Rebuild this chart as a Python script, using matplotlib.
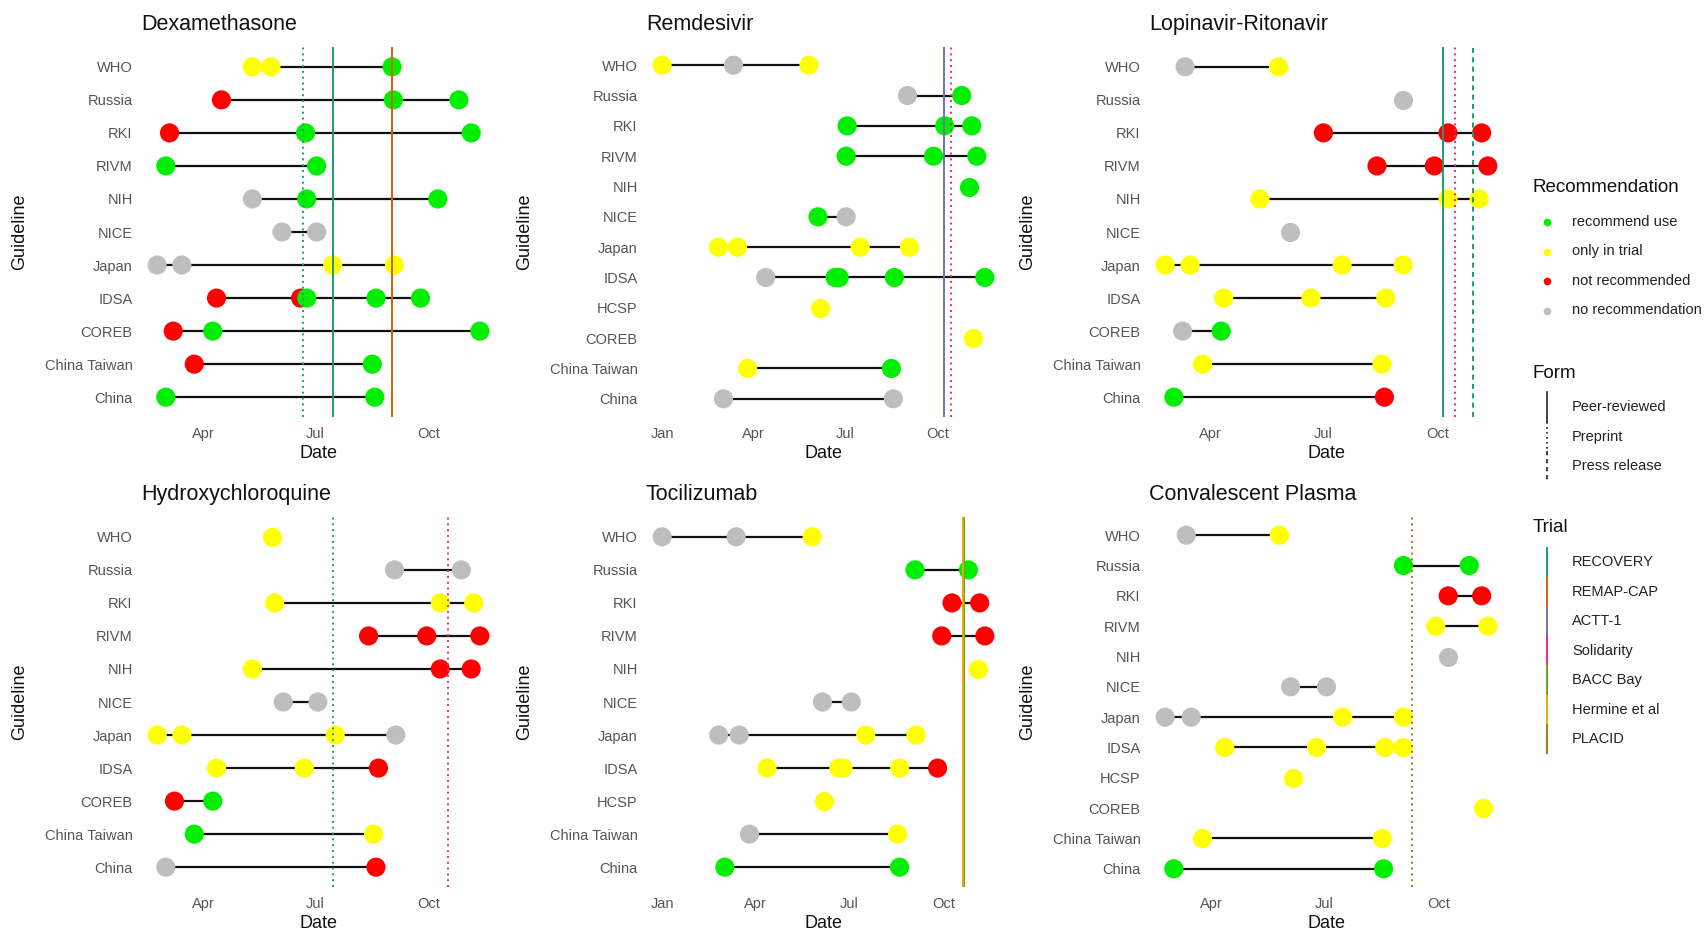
import numpy as np
import matplotlib
matplotlib.use('Agg')
import matplotlib.pyplot as plt
import matplotlib.dates as mdates

plt.rcParams['font.family'] = ['Liberation Sans', 'DejaVu Sans']

# recommendation codes: R = recommend use, T = only in trial, N = not recommended, U = no recommendation
rec_codes = ['R', 'T', 'N', 'U']
rec_labels = ['recommend use', 'only in trial', 'not recommended', 'no recommendation']
rec_colors = ['#00EE00', '#FFFF00', '#FF0000', '#BEBEBE']

form_names = ['Peer-reviewed', 'Preprint', 'Press release']
trial_names = ['RECOVERY', 'REMAP-CAP', 'ACTT-1', 'Solidarity', 'BACC Bay', 'Hermine et al', 'PLACID']
trial_colors = ['#1B9E77', '#D95F02', '#7570B3', '#E7298A', '#66A61E', '#E6AB02', '#A6761D']

dexa_recs = {
    'WHO': [('2020-05-11', 'T'), ('2020-05-26', 'T'), ('2020-09-01', 'R')],
    'Russia': [('2020-04-16', 'N'), ('2020-09-02', 'R'), ('2020-10-25', 'R')],
    'RKI': [('2020-03-05', 'N'), ('2020-06-23', 'R'), ('2020-11-04', 'R')],
    'RIVM': [('2020-03-02', 'R'), ('2020-07-02', 'R')],
    'NIH': [('2020-05-11', 'U'), ('2020-06-24', 'R'), ('2020-10-08', 'R')],
    'NICE': [('2020-06-04', 'U'), ('2020-07-02', 'U')],
    'Japan': [('2020-02-24', 'U'), ('2020-03-15', 'U'), ('2020-07-15', 'T'), ('2020-09-03', 'T')],
    'IDSA': [('2020-04-12', 'N'), ('2020-06-19', 'N'), ('2020-06-24', 'R'), ('2020-08-19', 'R'), ('2020-09-24', 'R')],
    'COREB': [('2020-03-08', 'N'), ('2020-04-09', 'R'), ('2020-11-11', 'R')],
    'China Taiwan': [('2020-03-25', 'N'), ('2020-08-16', 'R')],
    'China': [('2020-03-02', 'R'), ('2020-08-18', 'R')],
}
dexa_trials = [('RECOVERY', 'Preprint', '2020-06-21'),
               ('RECOVERY', 'Peer-reviewed', '2020-07-15'),
               ('REMAP-CAP', 'Peer-reviewed', '2020-09-01')]

remd_recs = {
    'WHO': [('2020-01-01', 'T'), ('2020-03-12', 'U'), ('2020-05-26', 'T')],
    'Russia': [('2020-09-01', 'U'), ('2020-10-25', 'R')],
    'RKI': [('2020-07-03', 'R'), ('2020-10-08', 'R'), ('2020-11-04', 'R')],
    'RIVM': [('2020-07-02', 'R'), ('2020-09-27', 'R'), ('2020-11-09', 'R')],
    'NIH': [('2020-11-01', 'R')],
    'NICE': [('2020-06-04', 'R'), ('2020-07-02', 'U')],
    'Japan': [('2020-02-26', 'T'), ('2020-03-16', 'T'), ('2020-07-16', 'T'), ('2020-09-03', 'T')],
    'IDSA': [('2020-04-13', 'U'), ('2020-06-21', 'R'), ('2020-06-25', 'R'), ('2020-08-19', 'R'), ('2020-11-17', 'R')],
    'HCSP': [('2020-06-06', 'T')],
    'COREB': [('2020-11-05', 'T')],
    'China Taiwan': [('2020-03-26', 'T'), ('2020-08-16', 'R')],
    'China': [('2020-03-02', 'U'), ('2020-08-18', 'U')],
}
remd_trials = [('ACTT-1', 'Peer-reviewed', '2020-10-07'),
               ('Solidarity', 'Preprint', '2020-10-14')]

lopi_recs = {
    'WHO': [('2020-03-12', 'U'), ('2020-05-26', 'T')],
    'Russia': [('2020-09-03', 'U')],
    'RKI': [('2020-07-01', 'N'), ('2020-10-09', 'N'), ('2020-11-05', 'N')],
    'RIVM': [('2020-08-13', 'N'), ('2020-09-28', 'N'), ('2020-11-10', 'N')],
    'NIH': [('2020-05-11', 'T'), ('2020-10-09', 'T'), ('2020-11-03', 'T')],
    'NICE': [('2020-06-04', 'U')],
    'Japan': [('2020-02-25', 'T'), ('2020-03-16', 'T'), ('2020-07-16', 'T'), ('2020-09-03', 'T')],
    'IDSA': [('2020-04-12', 'T'), ('2020-06-21', 'T'), ('2020-08-20', 'T')],
    'COREB': [('2020-03-10', 'U'), ('2020-04-10', 'R')],
    'China Taiwan': [('2020-03-26', 'T'), ('2020-08-17', 'T')],
    'China': [('2020-03-03', 'R'), ('2020-08-19', 'N')],
}
lopi_trials = [('RECOVERY', 'Peer-reviewed', '2020-10-05'),
               ('Solidarity', 'Preprint', '2020-10-15'),
               ('RECOVERY', 'Press release', '2020-10-29')]

hcq_recs = {
    'WHO': [('2020-05-27', 'T')],
    'Russia': [('2020-09-03', 'U'), ('2020-10-27', 'U')],
    'RKI': [('2020-05-29', 'T'), ('2020-10-10', 'T'), ('2020-11-06', 'T')],
    'RIVM': [('2020-08-13', 'N'), ('2020-09-29', 'N'), ('2020-11-11', 'N')],
    'NIH': [('2020-05-11', 'T'), ('2020-10-10', 'N'), ('2020-11-04', 'N')],
    'NICE': [('2020-06-05', 'U'), ('2020-07-03', 'U')],
    'Japan': [('2020-02-24', 'T'), ('2020-03-15', 'T'), ('2020-07-17', 'T'), ('2020-09-04', 'U')],
    'IDSA': [('2020-04-12', 'T'), ('2020-06-22', 'T'), ('2020-08-21', 'N')],
    'COREB': [('2020-03-09', 'N'), ('2020-04-09', 'R')],
    'China Taiwan': [('2020-03-25', 'R'), ('2020-08-17', 'T')],
    'China': [('2020-03-02', 'U'), ('2020-08-19', 'N')],
}
hcq_trials = [('RECOVERY', 'Preprint', '2020-07-15'),
              ('Solidarity', 'Preprint', '2020-10-16')]

toci_recs = {
    'WHO': [('2020-01-01', 'U'), ('2020-03-13', 'U'), ('2020-05-26', 'T')],
    'Russia': [('2020-09-03', 'R'), ('2020-10-25', 'R')],
    'RKI': [('2020-10-09', 'N'), ('2020-11-05', 'N')],
    'RIVM': [('2020-09-29', 'N'), ('2020-11-10', 'N')],
    'NIH': [('2020-11-03', 'T')],
    'NICE': [('2020-06-05', 'U'), ('2020-07-03', 'U')],
    'Japan': [('2020-02-25', 'U'), ('2020-03-16', 'U'), ('2020-07-17', 'T'), ('2020-09-04', 'T')],
    'IDSA': [('2020-04-12', 'T'), ('2020-06-21', 'T'), ('2020-06-25', 'T'), ('2020-08-19', 'T'), ('2020-09-25', 'N')],
    'HCSP': [('2020-06-06', 'T')],
    'China Taiwan': [('2020-03-26', 'U'), ('2020-08-17', 'T')],
    'China': [('2020-03-02', 'R'), ('2020-08-19', 'R')],
}
toci_trials = [('BACC Bay', 'Peer-reviewed', '2020-10-21'),
               ('Hermine et al', 'Peer-reviewed', '2020-10-20')]

plasma_recs = {
    'WHO': [('2020-03-12', 'U'), ('2020-05-26', 'T')],
    'Russia': [('2020-09-03', 'R'), ('2020-10-26', 'R')],
    'RKI': [('2020-10-09', 'N'), ('2020-11-05', 'N')],
    'RIVM': [('2020-09-29', 'T'), ('2020-11-10', 'T')],
    'NIH': [('2020-10-09', 'U')],
    'NICE': [('2020-06-04', 'U'), ('2020-07-03', 'U')],
    'Japan': [('2020-02-24', 'U'), ('2020-03-16', 'U'), ('2020-07-16', 'T'), ('2020-09-03', 'T')],
    'IDSA': [('2020-04-12', 'T'), ('2020-06-25', 'T'), ('2020-08-19', 'T'), ('2020-09-03', 'T')],
    'HCSP': [('2020-06-06', 'T')],
    'COREB': [('2020-11-06', 'T')],
    'China Taiwan': [('2020-03-25', 'T'), ('2020-08-17', 'T')],
    'China': [('2020-03-02', 'R'), ('2020-08-18', 'R')],
}
plasma_trials = [('PLACID', 'Preprint', '2020-09-10')]

panels = [
    ('Dexamethasone', dexa_recs, dexa_trials),
    ('Remdesivir', remd_recs, remd_trials),
    ('Lopinavir-Ritonavir', lopi_recs, lopi_trials),
    ('Hydroxychloroquine', hcq_recs, hcq_trials),
    ('Tocilizumab', toci_recs, toci_trials),
    ('Convalescent Plasma', plasma_recs, plasma_trials),
]

form_styles = {'Peer-reviewed': '-', 'Preprint': (0, (1.0, 2.0)), 'Press release': (0, (2.6, 2.2))}
col_of = dict(zip(rec_codes, rec_colors))
trial_col = dict(zip(trial_names, trial_colors))

W, H = 1704, 932
fig = plt.figure(figsize=(W / 100, H / 100), dpi=100)

col_left = [141, 646, 1149]
ax_w = 355
row_top = [47, 517]
ax_h = 370

tick_col = '#555555'
for k, (title, recs, trials) in enumerate(panels):
    r, c = divmod(k, 3)
    ax = fig.add_axes([col_left[c] / W, 1 - (row_top[r] + ax_h) / H, ax_w / W, ax_h / H])
    names = list(recs.keys())
    all_x = []
    for i, g in enumerate(names):
        xs = [mdates.datestr2num(d) for d, _ in recs[g]]
        cs = [col_of[code] for _, code in recs[g]]
        all_x += xs
        if len(xs) > 1:
            ax.plot(xs, [i] * len(xs), color='#111111', lw=1.6, zorder=2, solid_capstyle='butt')
        ax.scatter(xs, [i] * len(xs), s=190, c=cs, linewidths=0, zorder=3)
    for name, form, d in trials:
        xv = mdates.datestr2num(d)
        all_x.append(xv)
        ax.axvline(xv, color=trial_col[name], lw=1.4, ls=form_styles[form], zorder=4)
    lo, hi = min(all_x), max(all_x)
    pad = (hi - lo) * 0.05
    ax.set_xlim(lo - pad, hi + pad)
    ax.set_ylim(len(names) - 1 + 0.6, -0.6)
    ax.set_yticks(range(len(names)))
    ax.set_yticklabels(names)
    months = [mdates.datestr2num(m) for m in ['2020-01-01', '2020-04-01', '2020-07-01', '2020-10-01']]
    ax.set_xticks([m for m in months if lo - pad <= m <= hi + pad])
    ax.xaxis.set_major_formatter(mdates.DateFormatter('%b'))
    ax.tick_params(length=0, labelsize=10.5, colors=tick_col)
    ax.tick_params(axis='x', pad=7)
    ax.tick_params(axis='y', pad=6)
    for s in ax.spines.values():
        s.set_visible(False)
    ax.set_facecolor('none')
    ax.set_title(title, loc='left', fontsize=15.5, pad=12, color='#111111')
    ax.set_xlabel('Date', fontsize=13, color='#111111')
    ax.xaxis.set_label_coords(0.5, -37 / ax_h)
    ax.xaxis.label.set_va('center')
    ax.set_ylabel('Guideline', fontsize=13, color='#111111')
    ax.yaxis.set_label_coords(-121 / ax_w, 0.5)
    ax.yaxis.label.set_va('center')

# legends drawn in pixel coordinates on an overlay axis
lg = fig.add_axes([0, 0, 1, 1])
lg.set_xlim(0, W)
lg.set_ylim(H, 0)
lg.axis('off')
kx, tx = 1547, 1572
step = 29.5
lg.text(1533, 188, 'Recommendation', fontsize=13.5, va='center', ha='left', color='#111111')
for j, (lab, colr) in enumerate(zip(rec_labels, rec_colors)):
    yy = 222 + j * step
    lg.plot([kx], [yy], 'o', ms=5.5, color=colr, mec='none')
    lg.text(tx, yy, lab, fontsize=10.5, va='center', ha='left', color='#222222')

lg.text(1533, 373, 'Form', fontsize=13.5, va='center', ha='left', color='#111111')
for j, fname in enumerate(form_names):
    yy = 407 + j * step
    lg.plot([kx, kx], [yy - step / 2, yy + step / 2], color='#222222', lw=1.2, ls=form_styles[fname])
    lg.text(tx, yy, fname, fontsize=10.5, va='center', ha='left', color='#222222')

lg.text(1533, 527, 'Trial', fontsize=13.5, va='center', ha='left', color='#111111')
for j, (tname, colr) in enumerate(zip(trial_names, trial_colors)):
    yy = 562 + j * step
    lg.plot([kx, kx], [yy - step / 2, yy + step / 2], color=colr, lw=1.4, solid_capstyle='butt')
    lg.text(tx, yy, tname, fontsize=10.5, va='center', ha='left', color='#222222')

fig.savefig('out.png', dpi=100)
